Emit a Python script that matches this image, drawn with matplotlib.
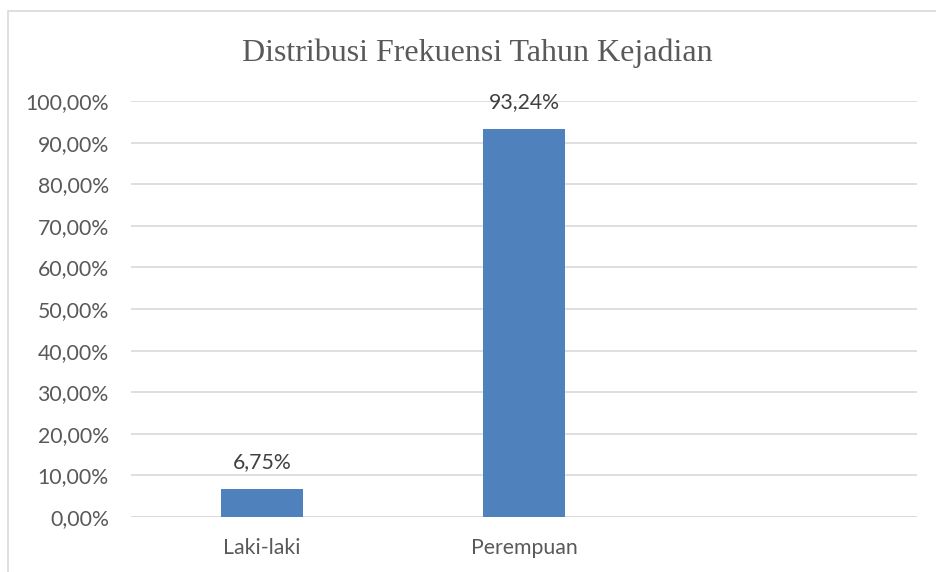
import matplotlib.pyplot as plt
from matplotlib.patches import Rectangle

categories = ["Laki-laki", "Perempuan", ""]
values = [6.75, 93.24, None]
value_labels = ["6,75%", "93,24%"]
yticks = [0, 10, 20, 30, 40, 50, 60, 70, 80, 90, 100]
ytick_labels = [f"{v},00%" for v in yticks]

fig = plt.figure(figsize=(9.37, 5.72), dpi=100)
ax = fig.add_axes([131 / 937, 1 - 517 / 572, 786 / 937, 416 / 572])

# chart border (partly cropped in the original)
fig.patches.append(Rectangle((8 / 937, -0.1), 1.2, 1 - 11 / 572 + 0.1,
                             transform=fig.transFigure, fill=False,
                             edgecolor="#D9D9D9", linewidth=1.2))

xs = list(range(len(categories)))
bar_x = [x for x, v in zip(xs, values) if v is not None]
bar_v = [v for v in values if v is not None]
ax.bar(bar_x, bar_v, width=0.313, color="#4F81BD", zorder=3)
for x, v, lab in zip(bar_x, bar_v, value_labels):
    ax.text(x, v + 4.0, lab, ha="center", va="bottom", fontsize=15.3,
            family="Lato", color="#404040")

ax.set_xlim(-0.5, len(categories) - 0.5)
ax.set_ylim(0, 100)
ax.set_yticks(yticks)
ax.set_yticklabels(ytick_labels, family="Lato", fontsize=15.3, color="#595959")
ax.set_xticks(xs)
ax.set_xticklabels(categories, family="Lato", fontsize=15.3, color="#595959")
ax.tick_params(axis="both", length=0)
ax.tick_params(axis="y", pad=16)
ax.tick_params(axis="x", pad=15)
ax.yaxis.grid(True, color="#D9D9D9", linewidth=1.2, zorder=0)
ax.set_axisbelow(True)
for s in ax.spines.values():
    s.set_visible(False)
ax.axhline(0, color="#D9D9D9", linewidth=1.2, zorder=1)

fig.text(477 / 937, 1 - 53 / 572, "Distribusi Frekuensi Tahun Kejadian",
         ha="center", va="center", fontsize=23, family="Liberation Serif",
         color="#595959")

fig.savefig("out.png", dpi=100)
